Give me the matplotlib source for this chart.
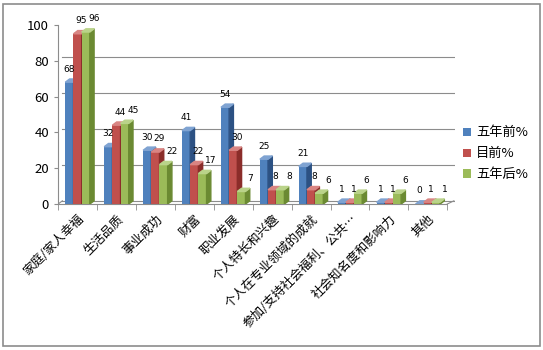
import matplotlib.pyplot as plt
from matplotlib.patches import Polygon, Rectangle
import numpy as np

plt.rcParams['font.family'] = ['Noto Sans CJK SC', 'DejaVu Sans']

categories = ['家庭/家人幸福', '生活品质', '事业成功', '财富', '职业发展',
              '个人特长和兴趣', '个人在专业领域的成就', '参加/支持社会福利、公共…',
              '社会知名度和影响力', '其他']
before = [68, 32, 30, 41, 54, 25, 21, 1, 1, 0]
now = [95, 44, 29, 22, 30, 8, 8, 1, 1, 1]
after = [96, 45, 22, 17, 7, 8, 6, 6, 6, 1]
series_names = ['五年前%', '目前%', '五年后%']

front = ['#4F81BD', '#C0504D', '#9BBB59']
side = ['#2C5183', '#8B2D2A', '#6B8A32']
top = ['#7FA3D2', '#D98583', '#BAD38A']
label_shift = [0.0, 0.09, 0.22]

fig = plt.figure(figsize=(5.43, 3.5), dpi=100)
fig.patches.append(Rectangle((0.006, 0.012), 0.988, 0.978, transform=fig.transFigure,
                             fill=False, edgecolor='#8C8C8C', linewidth=1.2))
ax = fig.add_axes([0.107, 0.417, 0.731, 0.512])

n = len(categories)
x = np.arange(n)
w = 0.21
dx, dy = 0.11, 1.8

# back wall grid
for g in range(0, 101, 20):
    ax.plot([-0.5 + dx, n - 0.5 + dx + 0.06], [g + dy, g + dy], color='#8C8C8C', lw=0.8, zorder=0)
ax.plot([-0.5, -0.5 + dx], [0, dy], color='#8C8C8C', lw=0.8, zorder=0)
ax.plot([n - 0.5, n - 0.5 + dx + 0.06], [0, dy], color='#8C8C8C', lw=0.8, zorder=0)

for j, vals in enumerate([before, now, after]):
    xs = x + (j - 1) * w
    ax.bar(xs, vals, w, color=front[j], label=series_names[j], zorder=2 + j)
    for xi, v in zip(xs, vals):
        r = xi + w / 2
        l = xi - w / 2
        ax.add_patch(Polygon([(r, 0), (r + dx, dy), (r + dx, v + dy), (r, v)],
                             closed=True, color=side[j], zorder=2 + j))
        ax.add_patch(Polygon([(l, v), (l + dx, v + dy), (r + dx, v + dy), (r, v)],
                             closed=True, color=top[j], zorder=2 + j))
        ax.text(xi + label_shift[j], v + dy + 3, str(v), ha='center', va='bottom',
                fontsize=6.5, family='DejaVu Sans', zorder=10)

ax.set_xlim(-0.5, n - 0.5 + 0.2)
ax.set_ylim(0, 100)
ax.set_yticks(range(0, 101, 20))
ax.tick_params(axis='y', labelsize=9.5, length=3, color='#8C8C8C')
ax.set_xticks(x)
ax.set_xticklabels(categories, rotation=45, ha='right', rotation_mode='anchor', fontsize=9)
ax.set_xticks(np.arange(n + 1) - 0.5, minor=True)
ax.tick_params(axis='x', which='major', length=0, pad=6)
ax.tick_params(axis='x', which='minor', length=4, color='#8C8C8C')
for s in ['top', 'right']:
    ax.spines[s].set_visible(False)
ax.spines['left'].set_color('#8C8C8C')
ax.spines['bottom'].set_color('#8C8C8C')
ax.spines['bottom'].set_bounds(-0.5, n - 0.5)
ax.set_facecolor('none')

ax.legend(loc='center left', bbox_to_anchor=(1.0, 0.28), frameon=False, fontsize=9.5,
          handlelength=0.6, handleheight=0.6, handletextpad=0.4, labelspacing=0.6,
          borderaxespad=0.2)

fig.savefig('out.png', dpi=100)
